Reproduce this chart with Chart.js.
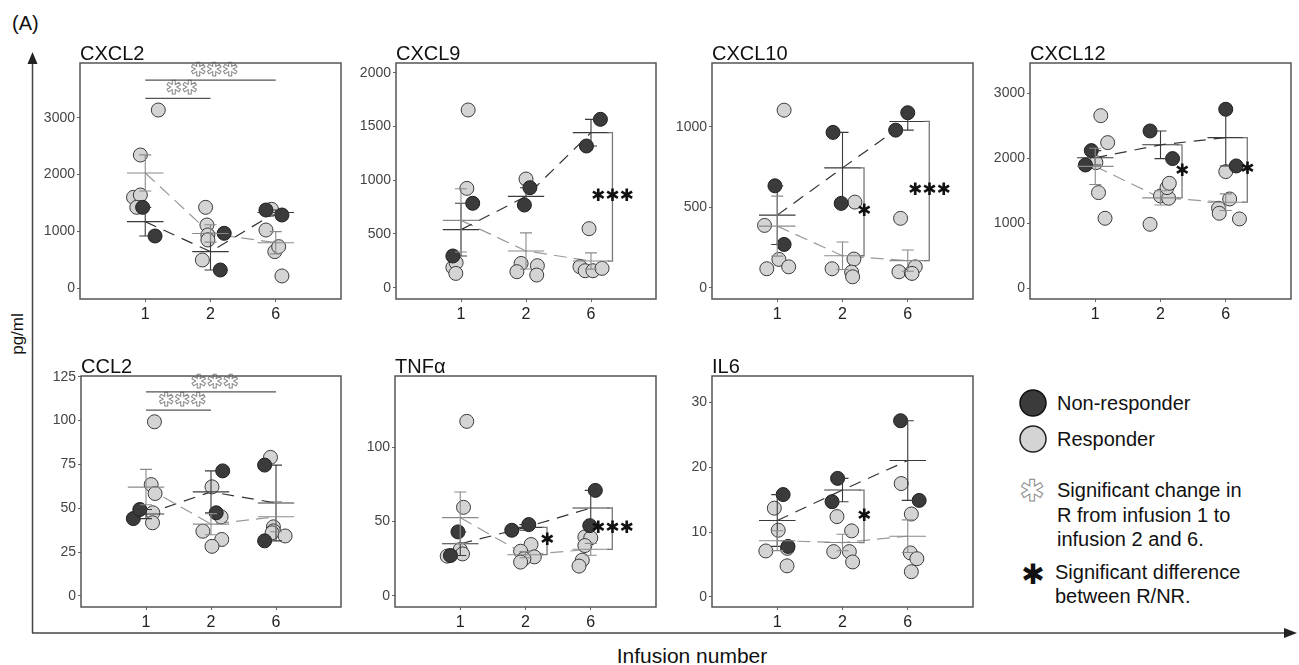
<!DOCTYPE html>
<html>
<head>
<meta charset="utf-8">
<script src="https://cdn.jsdelivr.net/npm/chart.js@4.4.1/dist/chart.umd.min.js"></script>
<style>
  html, body { margin: 0; padding: 0; background: #fff; overflow: hidden; }
  #page { position: relative; width: 1299px; height: 665px; }
  #page canvas { position: absolute; }
  #deco { position: absolute; left: 0; top: 0; }
  #deco text { font-family: 'Liberation Sans', Arial, sans-serif; fill: #111; }
</style>
</head>
<body>
<div id="page">
<svg id="deco" width="1299" height="665">
  <text x="12" y="30" font-size="20">(A)</text>
  <line x1="32.5" y1="60" x2="32.5" y2="633" stroke="#444" stroke-width="1.5"/>
  <polygon points="32.5,52 27.5,64 37.5,64" fill="#222"/>
  <line x1="32" y1="633" x2="1286" y2="633" stroke="#444" stroke-width="1.5"/>
  <polygon points="1297,633 1284,628 1284,638" fill="#222"/>
  <text x="23" y="334" font-size="17" text-anchor="middle" transform="rotate(-90 23 334)">pg/ml</text>
  <text x="692" y="663" font-size="21" text-anchor="middle">Infusion number</text>

  <circle cx="1033" cy="403" r="13" fill="#3b3b3b" stroke="#111" stroke-width="1.5"/>
  <text x="1057" y="410" font-size="20">Non-responder</text>
  <circle cx="1033" cy="439" r="13" fill="#d4d4d4" stroke="#222" stroke-width="1.5"/>
  <text x="1057" y="446" font-size="20">Responder</text>
  <text x="1032" y="501" font-size="30" text-anchor="middle" style="font-family:'DejaVu Sans';fill:#fff;stroke:#888;stroke-width:1">✱</text>
  <text x="1057" y="497" font-size="20">Significant change in</text>
  <text x="1057" y="522" font-size="20">R from infusion 1 to</text>
  <text x="1057" y="546" font-size="20">infusion 2 and 6.</text>
  <text x="1033" y="584" font-size="28" text-anchor="middle" style="font-family:'DejaVu Sans';fill:#111">✱</text>
  <text x="1055" y="579" font-size="20">Significant difference</text>
  <text x="1055" y="603" font-size="20">between R/NR.</text>
</svg>
</div>
<script>
// infusion categories (x axis)
const infusions = ['1', '2', '6'];

// CXCL2 (pg/ml), one inner array per infusion
const cxcl2R  = [[3135, 2344, 1600, 1641, 1424], [1424, 1113, 938, 850, 498], [1389, 1025, 645, 733, 217]];
const cxcl2NR = [[1424, 920], [967, 322], [1377, 1289]];
const cxcl2Ticks = [0, 1000, 2000, 3000];

// CXCL9
const cxcl9R  = [[1653, 924, 189, 233, 133], [1011, 226, 149, 205, 118], [549, 195, 158, 158, 180]];
const cxcl9NR = [[785, 295], [930, 769], [1566, 1318]];
const cxcl9Ticks = [0, 500, 1000, 1500, 2000];

// CXCL10
const cxcl10R  = [[1103, 387, 176, 118, 130], [532, 178, 118, 97, 68], [431, 99, 93, 130, 89]];
const cxcl10NR = [[633, 269], [965, 524], [1087, 979]];
const cxcl10Ticks = [0, 500, 1000];

// CXCL12
const cxcl12R  = [[2656, 2241, 1933, 1472, 1077], [985, 1420, 1385, 1549, 1615], [1795, 1374, 1231, 1154, 1067]];
const cxcl12NR = [[1897, 2118], [2420, 1995], [2754, 1882]];
const cxcl12Ticks = [0, 1000, 2000, 3000];

// CCL2
const ccl2R  = [[99.3, 63.5, 58.4, 47.4, 41.7], [62.2, 45.1, 36.9, 32.2, 28.3], [79.0, 39.4, 37.1, 36.0, 34.2]];
const ccl2NR = [[44.1, 49.3], [71.3, 47.4], [74.6, 31.4]];
const ccl2Ticks = [0, 25, 50, 75, 100, 125];

// TNFα
const tnfR  = [[117.4, 59.6, 31.2, 28.3, 26.8], [34.6, 30.1, 26.3, 25.0, 22.8], [39.7, 39.1, 33.9, 24.1, 20.1]];
const tnfNR = [[43.1, 27.2], [44.2, 48.0], [71.0, 47.3]];
const tnfTicks = [0, 50, 100];

// IL6
const il6R  = [[13.7, 10.3, 7.1, 7.5, 4.8], [12.4, 10.2, 7.0, 7.0, 5.4], [17.5, 12.8, 6.8, 5.9, 3.9]];
const il6NR = [[15.8, 7.8], [18.3, 14.7], [27.2, 14.9]];
const il6Ticks = [0, 10, 20, 30];

// horizontal scatter of the dots around each infusion (in category units)
const cxcl2JitR  = [[0.20, -0.075, -0.18, -0.075, -0.13], [-0.075, -0.055, -0.04, -0.04, -0.125], [-0.065, -0.15, -0.015, 0.045, 0.095]];
const cxcl2JitNR = [[-0.04, 0.15], [0.21, 0.15], [-0.15, 0.095]];
const cxcl9JitR  = [[0.11, 0.09, -0.125, -0.075, -0.08], [0, -0.075, -0.14, 0.175, 0.165], [-0.03, -0.17, -0.09, 0.03, 0.17]];
const cxcl9JitNR = [[0.18, -0.125], [0.06, -0.025], [0.145, -0.07]];
const cxcl10JitR  = [[0.105, -0.195, 0.025, -0.16, 0.175], [0.19, 0.175, -0.16, 0.14, 0.155], [-0.11, -0.135, 0.055, 0.115, 0.065]];
const cxcl10JitNR = [[-0.035, 0.105], [-0.145, -0.02], [0, -0.185]];
const cxcl12JitR  = [[0.085, 0.19, 0.01, 0.05, 0.15], [-0.16, 0, 0.125, 0.1, 0.135], [0, 0.06, -0.11, -0.1, 0.21]];
const cxcl12JitNR = [[-0.15, -0.06], [-0.16, 0.185], [0, 0.16]];
const ccl2JitR  = [[0.13, 0.08, 0.14, 0.105, 0.1], [0.015, 0.155, -0.125, 0.165, 0.015], [-0.085, -0.04, -0.04, -0.06, 0.14]];
const ccl2JitNR = [[-0.195, -0.095], [0.18, 0.08], [-0.175, -0.175]];
const tnfJitR  = [[0.1, 0.05, 0, 0.035, -0.2], [0.085, -0.075, 0.135, -0.025, -0.075], [-0.09, 0, -0.09, -0.13, -0.18]];
const tnfJitNR = [[-0.035, -0.15], [-0.21, 0.05], [0.07, -0.015]];
const il6JitR  = [[-0.045, 0.015, -0.175, 0.155, 0.15], [-0.085, 0.14, -0.135, 0.105, 0.155], [-0.1, 0.055, 0.04, 0.14, 0.055]];
const il6JitNR = [[0.09, 0.165], [-0.075, -0.16], [-0.11, 0.175]];

// significant R/NR difference: [infusion index, stars]
const cxcl9Diff  = [[2, '✱✱✱']];
const cxcl10Diff = [[1, '✱'], [2, '✱✱✱']];
const cxcl12Diff = [[1, '✱'], [2, '✱']];
const tnfDiff    = [[1, '✱'], [2, '✱✱✱']];
const il6Diff    = [[1, '✱']];

// significant change in R vs infusion 1: [to infusion index, line level, stars]
const cxcl2Change = [[1, 3340, '✱✱'], [2, 3662, '✱✱✱']];
const ccl2Change  = [[1, 106, '✱✱✱'], [2, 116.4, '✱✱✱']];

const panels = [
  { title: 'CXCL2', r: cxcl2R, nr: cxcl2NR, jr: cxcl2JitR, jnr: cxcl2JitNR, ticks: cxcl2Ticks,
    box: [80, 63, 267, 236], ymin: -188, ymax: 3962, diff: [], change: cxcl2Change },
  { title: 'CXCL9', r: cxcl9R, nr: cxcl9NR, jr: cxcl9JitR, jnr: cxcl9JitNR, ticks: cxcl9Ticks,
    box: [396, 63, 266, 236], ymin: -105, ymax: 2090, diff: cxcl9Diff, change: [] },
  { title: 'CXCL10', r: cxcl10R, nr: cxcl10NR, jr: cxcl10JitR, jnr: cxcl10JitNR, ticks: cxcl10Ticks,
    box: [712, 63, 267, 236], ymin: -70, ymax: 1396, diff: cxcl10Diff, change: [] },
  { title: 'CXCL12', r: cxcl12R, nr: cxcl12NR, jr: cxcl12JitR, jnr: cxcl12JitNR, ticks: cxcl12Ticks,
    box: [1030, 63, 267, 236], ymin: -165, ymax: 3466, diff: cxcl12Diff, change: [] },
  { title: 'CCL2', r: ccl2R, nr: ccl2NR, jr: ccl2JitR, jnr: ccl2JitNR, ticks: ccl2Ticks,
    box: [81, 376, 266, 231], ymin: -6.3, ymax: 125.4, diff: [], change: ccl2Change },
  { title: 'TNFα', r: tnfR, nr: tnfNR, jr: tnfJitR, jnr: tnfJitNR, ticks: tnfTicks,
    box: [395, 376, 267, 231], ymin: -7.4, ymax: 147.9, diff: tnfDiff, change: [] },
  { title: 'IL6', r: il6R, nr: il6NR, jr: il6JitR, jnr: il6JitNR, ticks: il6Ticks,
    box: [712, 376, 267, 231], ymin: -1.55, ymax: 34.1, diff: il6Diff, change: [] }
];

const FONT = "'Liberation Sans', Arial, sans-serif";
const STAR = "'DejaVu Sans', sans-serif";
const PAD_L = 50, PAD_T = 30, PAD_B = 28, PAD_R = 2;

function mean(a) { return a.reduce((s, v) => s + v, 0) / a.length; }
function sem(a) {
  const m = mean(a);
  const v = a.reduce((s, x) => s + (x - m) * (x - m), 0) / (a.length - 1);
  return Math.sqrt(v / a.length);
}

function toPoints(groups, jitter) {
  const pts = [];
  groups.forEach((g, i) => g.forEach((v, k) => pts.push({ x: i + 1 + jitter[i][k], y: v })));
  return pts;
}

// mean bars, SEM whiskers, brackets and stars
const statsPlugin = {
  id: 'stats',
  afterDatasetsDraw(chart) {
    const p = chart.options.plugins.stats.panel;
    const ctx = chart.ctx;
    const xs = chart.scales.x, ys = chart.scales.y;
    const groups = [[p.nr, '#3a3a3a'], [p.r, '#8a8a8a']];
    ctx.save();
    groups.forEach(([data, col]) => {
      data.forEach((g, i) => {
        const m = mean(g), e = sem(g);
        const cx = xs.getPixelForValue(i + 1);
        const y0 = ys.getPixelForValue(m - e), y1 = ys.getPixelForValue(m + e), ym = ys.getPixelForValue(m);
        ctx.strokeStyle = col;
        ctx.lineWidth = 1.1;
        ctx.beginPath();
        ctx.moveTo(cx, y0); ctx.lineTo(cx, y1);
        ctx.moveTo(cx - 6, y0); ctx.lineTo(cx + 6, y0);
        ctx.moveTo(cx - 6, y1); ctx.lineTo(cx + 6, y1);
        ctx.moveTo(xs.getPixelForValue(i + 1 - 0.28), ym); ctx.lineTo(xs.getPixelForValue(i + 1 + 0.28), ym);
        ctx.stroke();
      });
    });

    // R vs NR brackets
    p.diff.forEach(([i, label]) => {
      const a = mean(p.nr[i]), b = mean(p.r[i]);
      const bx = xs.getPixelForValue(i + 1 + 0.33);
      const ya = ys.getPixelForValue(a), yb = ys.getPixelForValue(b);
      ctx.strokeStyle = '#777';
      ctx.lineWidth = 1.3;
      ctx.beginPath();
      ctx.moveTo(bx - 5, ya); ctx.lineTo(bx, ya); ctx.lineTo(bx, yb); ctx.lineTo(bx - 5, yb);
      ctx.stroke();
      ctx.font = '17px ' + STAR;
      ctx.fillStyle = '#111';
      ctx.textAlign = 'center';
      ctx.textBaseline = 'middle';
      ctx.fillText(label, bx, ys.getPixelForValue((a + b) / 2));
    });

    // change in R from infusion 1
    p.change.forEach(([to, level, label]) => {
      const x0 = xs.getPixelForValue(1), x1 = xs.getPixelForValue(to + 1);
      const y = ys.getPixelForValue(level);
      ctx.strokeStyle = '#555';
      ctx.lineWidth = 1.2;
      ctx.beginPath();
      ctx.moveTo(x0, y); ctx.lineTo(x1, y);
      ctx.stroke();
      ctx.font = '19px ' + STAR;
      ctx.textAlign = 'center';
      ctx.textBaseline = 'middle';
      ctx.fillStyle = '#fff';
      ctx.strokeStyle = '#888';
      ctx.lineWidth = 1;
      const tx = (x0 + x1) / 2 + 4;
      ctx.fillText(label, tx, y - 9);
      ctx.strokeText(label, tx, y - 9);
    });
    ctx.restore();
  },
  afterDraw(chart) {
    const p = chart.options.plugins.stats.panel;
    const ctx = chart.ctx, a = chart.chartArea;
    ctx.save();
    ctx.strokeStyle = '#555';
    ctx.lineWidth = 1.5;
    ctx.strokeRect(a.left, a.top, a.right - a.left, a.bottom - a.top);
    ctx.font = '20px ' + FONT;
    ctx.fillStyle = '#111';
    ctx.textAlign = 'left';
    ctx.textBaseline = 'alphabetic';
    ctx.fillText(p.title, a.left, a.top - 3);
    ctx.restore();
  }
};

function drawPanel(p) {
  const [bx, by, bw, bh] = p.box;
  const canvas = document.createElement('canvas');
  canvas.width = PAD_L + bw + PAD_R;
  canvas.height = PAD_T + bh + PAD_B;
  canvas.style.left = (bx - PAD_L) + 'px';
  canvas.style.top = (by - PAD_T) + 'px';
  document.getElementById('page').appendChild(canvas);

  const meansR = p.r.map((g, i) => ({ x: i + 1, y: mean(g) }));
  const meansNR = p.nr.map((g, i) => ({ x: i + 1, y: mean(g) }));

  new Chart(canvas.getContext('2d'), {
    type: 'scatter',
    data: {
      datasets: [
        { type: 'line', data: meansR, borderColor: '#9a9a9a', borderWidth: 1.2, borderDash: [13, 7],
          pointRadius: 0, fill: false, tension: 0, order: 4 },
        { type: 'line', data: meansNR, borderColor: '#333', borderWidth: 1.2, borderDash: [12, 8],
          pointRadius: 0, fill: false, tension: 0, order: 3 },
        { data: toPoints(p.r, p.jr), backgroundColor: '#d4d4d4', borderColor: '#3a3a3a', borderWidth: 1,
          pointRadius: 7, order: 2 },
        { data: toPoints(p.nr, p.jnr), backgroundColor: '#3b3b3b', borderColor: '#1e1e1e', borderWidth: 1,
          pointRadius: 7, order: 1 }
      ]
    },
    options: {
      responsive: false,
      animation: false,
      devicePixelRatio: 1,
      layout: { padding: { top: PAD_T, right: PAD_R, left: 0, bottom: 0 } },
      plugins: { legend: { display: false }, tooltip: { enabled: false }, stats: { panel: p } },
      scales: {
        x: {
          type: 'linear', min: 0, max: 4,
          afterBuildTicks: s => { s.ticks = infusions.map((t, i) => ({ value: i + 1 })); },
          afterFit: s => { s.height = PAD_B; },
          ticks: { callback: v => infusions[v - 1], font: { family: FONT, size: 16 }, color: '#222', padding: 3 },
          grid: { drawOnChartArea: false, drawTicks: true, tickLength: 3, color: '#666' },
          border: { display: false }
        },
        y: {
          min: p.ymin, max: p.ymax,
          afterBuildTicks: s => { s.ticks = p.ticks.map(v => ({ value: v })); },
          afterFit: s => { s.width = PAD_L; },
          ticks: { callback: v => String(v), font: { family: FONT, size: 14 }, color: '#444', padding: 2 },
          grid: { drawOnChartArea: false, drawTicks: true, tickLength: 3, color: '#666' },
          border: { display: false }
        }
      }
    },
    plugins: [statsPlugin]
  });
}

panels.forEach(drawPanel);
</script>
</body>
</html>
